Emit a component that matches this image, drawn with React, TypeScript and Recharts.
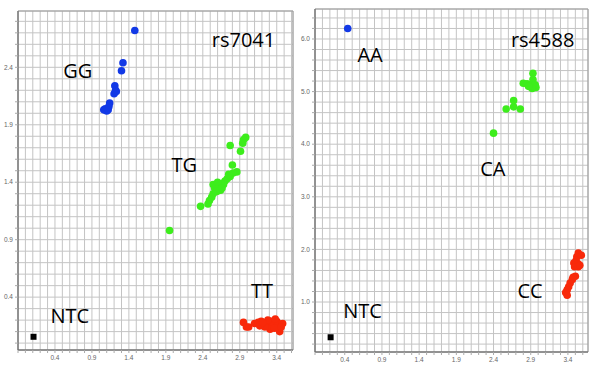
import React from 'react';
import { ScatterChart, Scatter, XAxis, YAxis, CartesianGrid, ReferenceArea, ReferenceDot } from 'recharts';

// rs7041 clusters
const rs7041GG = [
  { x: 1.48, y: 2.72 }, { x: 1.32, y: 2.44 }, { x: 1.3, y: 2.37 }, { x: 1.21, y: 2.24 },
  { x: 1.22, y: 2.2 }, { x: 1.2, y: 2.17 }, { x: 1.23, y: 2.19 }, { x: 1.14, y: 2.09 },
  { x: 1.13, y: 2.06 }, { x: 1.08, y: 2.04 }, { x: 1.1, y: 2.02 }, { x: 1.06, y: 2.03 },
  { x: 1.12, y: 2.03 },
];
const rs7041TG = [
  { x: 2.98, y: 1.79 }, { x: 2.95, y: 1.77 }, { x: 2.94, y: 1.74 }, { x: 2.77, y: 1.72 },
  { x: 2.91, y: 1.67 }, { x: 2.8, y: 1.55 }, { x: 2.86, y: 1.49 }, { x: 2.81, y: 1.48 },
  { x: 2.77, y: 1.45 }, { x: 2.73, y: 1.43 }, { x: 2.7, y: 1.41 }, { x: 2.67, y: 1.39 },
  { x: 2.63, y: 1.37 }, { x: 2.61, y: 1.36 }, { x: 2.54, y: 1.38 }, { x: 2.56, y: 1.35 },
  { x: 2.64, y: 1.33 }, { x: 2.59, y: 1.32 }, { x: 2.54, y: 1.3 }, { x: 2.52, y: 1.27 },
  { x: 2.49, y: 1.24 }, { x: 2.47, y: 1.21 }, { x: 2.37, y: 1.19 }, { x: 1.95, y: 0.98 },
  { x: 2.68, y: 1.38 }, { x: 2.6, y: 1.4 }, { x: 2.75, y: 1.47 }, { x: 2.66, y: 1.35 },
];
const rs7041TT = [
  { x: 2.95, y: 0.18 }, { x: 2.99, y: 0.14 }, { x: 3.02, y: 0.14 }, { x: 3.1, y: 0.17 },
  { x: 3.15, y: 0.18 }, { x: 3.19, y: 0.19 }, { x: 3.22, y: 0.16 }, { x: 3.26, y: 0.17 },
  { x: 3.3, y: 0.14 }, { x: 3.33, y: 0.19 }, { x: 3.35, y: 0.16 }, { x: 3.4, y: 0.19 },
  { x: 3.42, y: 0.17 }, { x: 3.44, y: 0.1 }, { x: 3.48, y: 0.17 }, { x: 3.31, y: 0.12 },
  { x: 3.24, y: 0.14 }, { x: 3.37, y: 0.13 }, { x: 3.17, y: 0.15 }, { x: 3.28, y: 0.2 },
  { x: 3.21, y: 0.18 }, { x: 3.38, y: 0.21 }, { x: 3.46, y: 0.14 },
];
const rs7041NTC = [{ x: 0.11, y: 0.055 }];

// rs4588 clusters
const rs4588AA = [{ x: 0.44, y: 6.2 }];
const rs4588CA = [
  { x: 2.93, y: 5.35 }, { x: 2.93, y: 5.23 }, { x: 2.8, y: 5.16 }, { x: 2.85, y: 5.15 },
  { x: 2.89, y: 5.13 }, { x: 2.96, y: 5.13 }, { x: 2.97, y: 5.08 }, { x: 2.92, y: 5.06 },
  { x: 2.87, y: 5.1 }, { x: 2.67, y: 4.83 }, { x: 2.67, y: 4.71 }, { x: 2.57, y: 4.67 },
  { x: 2.76, y: 4.67 }, { x: 2.4, y: 4.21 },
];
const rs4588CC = [
  { x: 3.54, y: 1.93 }, { x: 3.58, y: 1.89 }, { x: 3.52, y: 1.86 }, { x: 3.51, y: 1.79 },
  { x: 3.48, y: 1.74 }, { x: 3.54, y: 1.72 }, { x: 3.54, y: 1.67 }, { x: 3.49, y: 1.67 },
  { x: 3.5, y: 1.49 }, { x: 3.46, y: 1.43 }, { x: 3.43, y: 1.36 }, { x: 3.41, y: 1.29 },
  { x: 3.39, y: 1.23 }, { x: 3.37, y: 1.18 }, { x: 3.39, y: 1.13 }, { x: 3.56, y: 1.7 },
  { x: 3.47, y: 1.47 },
];
const rs4588NTC = [{ x: 0.21, y: 0.33 }];

// tick labels
const xLabels = [0.4, 0.9, 1.4, 1.9, 2.4, 2.9, 3.4];
const rs7041YLabels = [0.4, 0.9, 1.4, 1.9, 2.4];
const rs4588YLabels = [1, 2, 3, 4, 5, 6];

// cluster names, placed in data space (x = centre, y = baseline)
const rs7041Notes = [
  { text: 'rs7041', x: 2.95, y: 2.574 },
  { text: 'GG', x: 0.71, y: 2.304 },
  { text: 'TG', x: 2.15, y: 1.487 },
  { text: 'TT', x: 3.2, y: 0.391 },
  { text: 'NTC', x: 0.6, y: 0.174 },
];
const rs4588Notes = [
  { text: 'rs4588', x: 3.06, y: 5.848 },
  { text: 'AA', x: 0.74, y: 5.563 },
  { text: 'CA', x: 2.39, y: 3.395 },
  { text: 'CC', x: 2.89, y: 1.076 },
  { text: 'NTC', x: 0.64, y: 0.696 },
];

const BLUE = '#1239e6';
const GREEN = '#3ded1c';
const RED = '#f8290a';

const steps = (a: number, b: number, step: number) => {
  const out: number[] = [];
  for (let i = Math.round(a / step); i <= Math.round(b / step); i++) out.push(Math.round(i * step * 100) / 100);
  return out;
};

const makeTick = (labels: number[], axis: 'x' | 'y') => (props: any) => {
  const { x, y, payload } = props;
  const v = payload.value;
  if (!labels.some((l) => Math.abs(l - v) < 1e-6)) return <g />;
  if (axis === 'x') {
    return (
      <text x={x} y={y + 5} textAnchor="middle" fontSize={6.5} fill="#666" fontFamily="Liberation Sans">
        {v.toFixed(1)}
      </text>
    );
  }
  return (
    <text x={x} y={y} dy="0.35em" textAnchor="end" fontSize={6.5} fill="#666" fontFamily="Liberation Sans">
      {v.toFixed(1)}
    </text>
  );
};

const dot = (color: string) => (p: any) => <circle cx={p.cx} cy={p.cy} r={3.8} fill={color} />;
const square = (p: any) => <rect x={p.cx - 3} y={p.cy - 3} width={6} height={6} fill="#000" />;
const note = (text: string) => (p: any) => (
  <text x={p.cx} y={p.cy} textAnchor="middle" fontSize={20} fontFamily="Open Sans" fill="#000">
    {text}
  </text>
);

interface PanelProps {
  left: number;
  top: number;
  bottom: number;
  yWidth: number;
  xDomain: [number, number];
  yDomain: [number, number];
  xGrid: number[];
  yGrid: number[];
  yLabels: number[];
  series: { data: { x: number; y: number }[]; shape: any }[];
  notes: { text: string; x: number; y: number }[];
}

const Panel: React.FC<PanelProps> = ({ left, top, bottom, yWidth, xDomain, yDomain, xGrid, yGrid, yLabels, series, notes }) => (
  <div style={{ position: 'absolute', left, top: 0 }}>
    <ScatterChart width={295} height={365} margin={{ top, right: 2, bottom: 0, left: 0 }}>
      <CartesianGrid stroke="#c4c4c4" />
      <XAxis
        type="number"
        dataKey="x"
        domain={xDomain}
        ticks={xGrid}
        allowDataOverflow
        interval={0}
        height={bottom}
        tickSize={3}
        axisLine={{ stroke: '#666' }}
        tickLine={{ stroke: '#aaa' }}
        tick={makeTick(xLabels, 'x')}
      />
      <YAxis
        type="number"
        dataKey="y"
        domain={yDomain}
        ticks={yGrid}
        allowDataOverflow
        interval={0}
        width={yWidth}
        tickSize={3}
        axisLine={{ stroke: '#666' }}
        tickLine={{ stroke: '#aaa' }}
        tick={makeTick(yLabels, 'y')}
      />
      <ReferenceArea x1={xDomain[0]} x2={xDomain[1]} y1={yDomain[0]} y2={yDomain[1]} fill="none" stroke="#9a9a9a" />
      {series.map((s, i) => (
        <Scatter key={i} data={s.data} shape={s.shape} isAnimationActive={false} />
      ))}
      {notes.map((n) => (
        <ReferenceDot key={n.text} x={n.x} y={n.y} r={1} shape={note(n.text)} />
      ))}
    </ScatterChart>
  </div>
);

export default function App() {
  return (
    <div style={{ position: 'absolute', left: 0, top: 0, width: 590, height: 365, background: '#fff' }}>
      <Panel
        left={0}
        top={11}
        bottom={15}
        yWidth={18}
        xDomain={[-0.1, 3.62]}
        yDomain={[-0.06, 2.89]}
        xGrid={steps(-0.1, 3.6, 0.1)}
        yGrid={steps(0, 2.8, 0.1)}
        yLabels={rs7041YLabels}
        series={[
          { data: rs7041GG, shape: dot(BLUE) },
          { data: rs7041TG, shape: dot(GREEN) },
          { data: rs7041TT, shape: dot(RED) },
          { data: rs7041NTC, shape: square },
        ]}
        notes={rs7041Notes}
      />
      <Panel
        left={295}
        top={9}
        bottom={13}
        yWidth={20}
        xDomain={[0, 3.67]}
        yDomain={[0.05, 6.57]}
        xGrid={steps(0, 3.6, 0.1)}
        yGrid={steps(0.2, 6.4, 0.2)}
        yLabels={rs4588YLabels}
        series={[
          { data: rs4588AA, shape: dot(BLUE) },
          { data: rs4588CA, shape: dot(GREEN) },
          { data: rs4588CC, shape: dot(RED) },
          { data: rs4588NTC, shape: square },
        ]}
        notes={rs4588Notes}
      />
    </div>
  );
}
